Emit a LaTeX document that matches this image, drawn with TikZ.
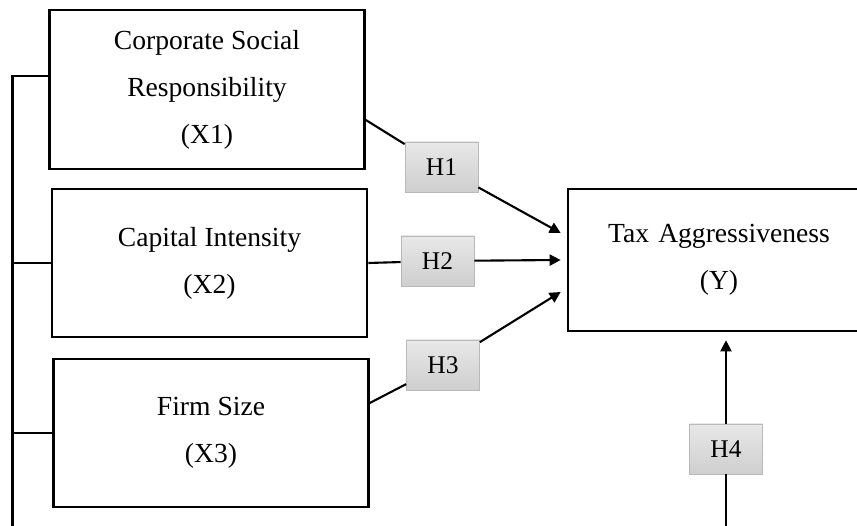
\documentclass[tikz,border=0pt]{standalone}
\usepackage{fontspec}
\setmainfont{Liberation Serif}
\usetikzlibrary{arrows.meta, positioning, calc}

\begin{document}
\begin{tikzpicture}[
  varbox/.style={draw, line width=1.5pt, minimum width=6.3cm, minimum height=2.96cm, align=center, font=\fontsize{15.7}{26.7}\selectfont},
  hypbox/.style={draw=gray!55, top color=gray!18, bottom color=gray!38, minimum width=1.46cm, minimum height=1.0cm, font=\fontsize{14.5}{16}\selectfont},
  link/.style={line width=1.2pt},
  effect/.style={-{Triangle[length=2.2mm, width=2.2mm]}, line width=1.2pt}
]
\useasboundingbox (0,0) rectangle (17.14,10.52);
\clip (0,0) rectangle (17.14,10.52);

% Variables (independent on the left, dependent on the right)
\node[varbox, minimum height=3.18cm] (x1) at (4.14,8.73) {Corporate Social\\Responsibility\\(X1)};
\node[varbox] (x2) at (4.19,5.26) {Capital Intensity\\(X2)};
\node[varbox] (x3) at (4.22,1.86) {Firm Size\\(X3)};
\node[varbox, minimum width=6.04cm, minimum height=2.84cm, text width=5.8cm] (y) at (14.38,5.32) {Tax Aggressiveness\\(Y)};

% Hypotheses
\node[hypbox] (h1) at (8.83,7.18) {H1};
\node[hypbox] (h2) at (8.75,5.30) {H2};
\node[hypbox] (h3) at (8.86,3.22) {H3};
\node[hypbox] (h4) at (14.52,1.54) {H4};

% Arrow ends in front of Y and the loose ends at the bottom
\coordinate (t1) at ([xshift=-1.2mm, yshift=5.4mm]y.west);
\coordinate (t2) at ([xshift=-1.2mm]y.west);
\coordinate (t3) at ([xshift=-1.2mm, yshift=-6.4mm]y.west);
\coordinate (t4) at ([yshift=-1.6mm]y.south -| h4);
\coordinate (h4in) at (h4 |- 0,0);
\coordinate (brktop) at (0.25,9.0);
\coordinate (brkbot) at (0.25,0);

% Paths X -> H -> Y
\draw[link] ([yshift=-6.1mm]x1.east) -- (h1);
\draw[effect] (h1) -- (t1);
\draw[link] (x2.east) -- (h2);
\draw[effect] (h2) -- (t2);
\draw[link] ([yshift=6.0mm]x3.east) -- (h3);
\draw[effect] (h3) -- (t3);
\draw[link] (h4in) -- (h4);
\draw[effect] (h4) -- (t4);

% Bracket joining the independent variables
\draw[line width=1.2pt] (brkbot) -- (brktop) -- (brktop -| x1.west);
\foreach \v in {x2,x3}{\draw[line width=0.7pt] (brkbot |- \v.west) -- (\v.west);}
\end{tikzpicture}
\end{document}
